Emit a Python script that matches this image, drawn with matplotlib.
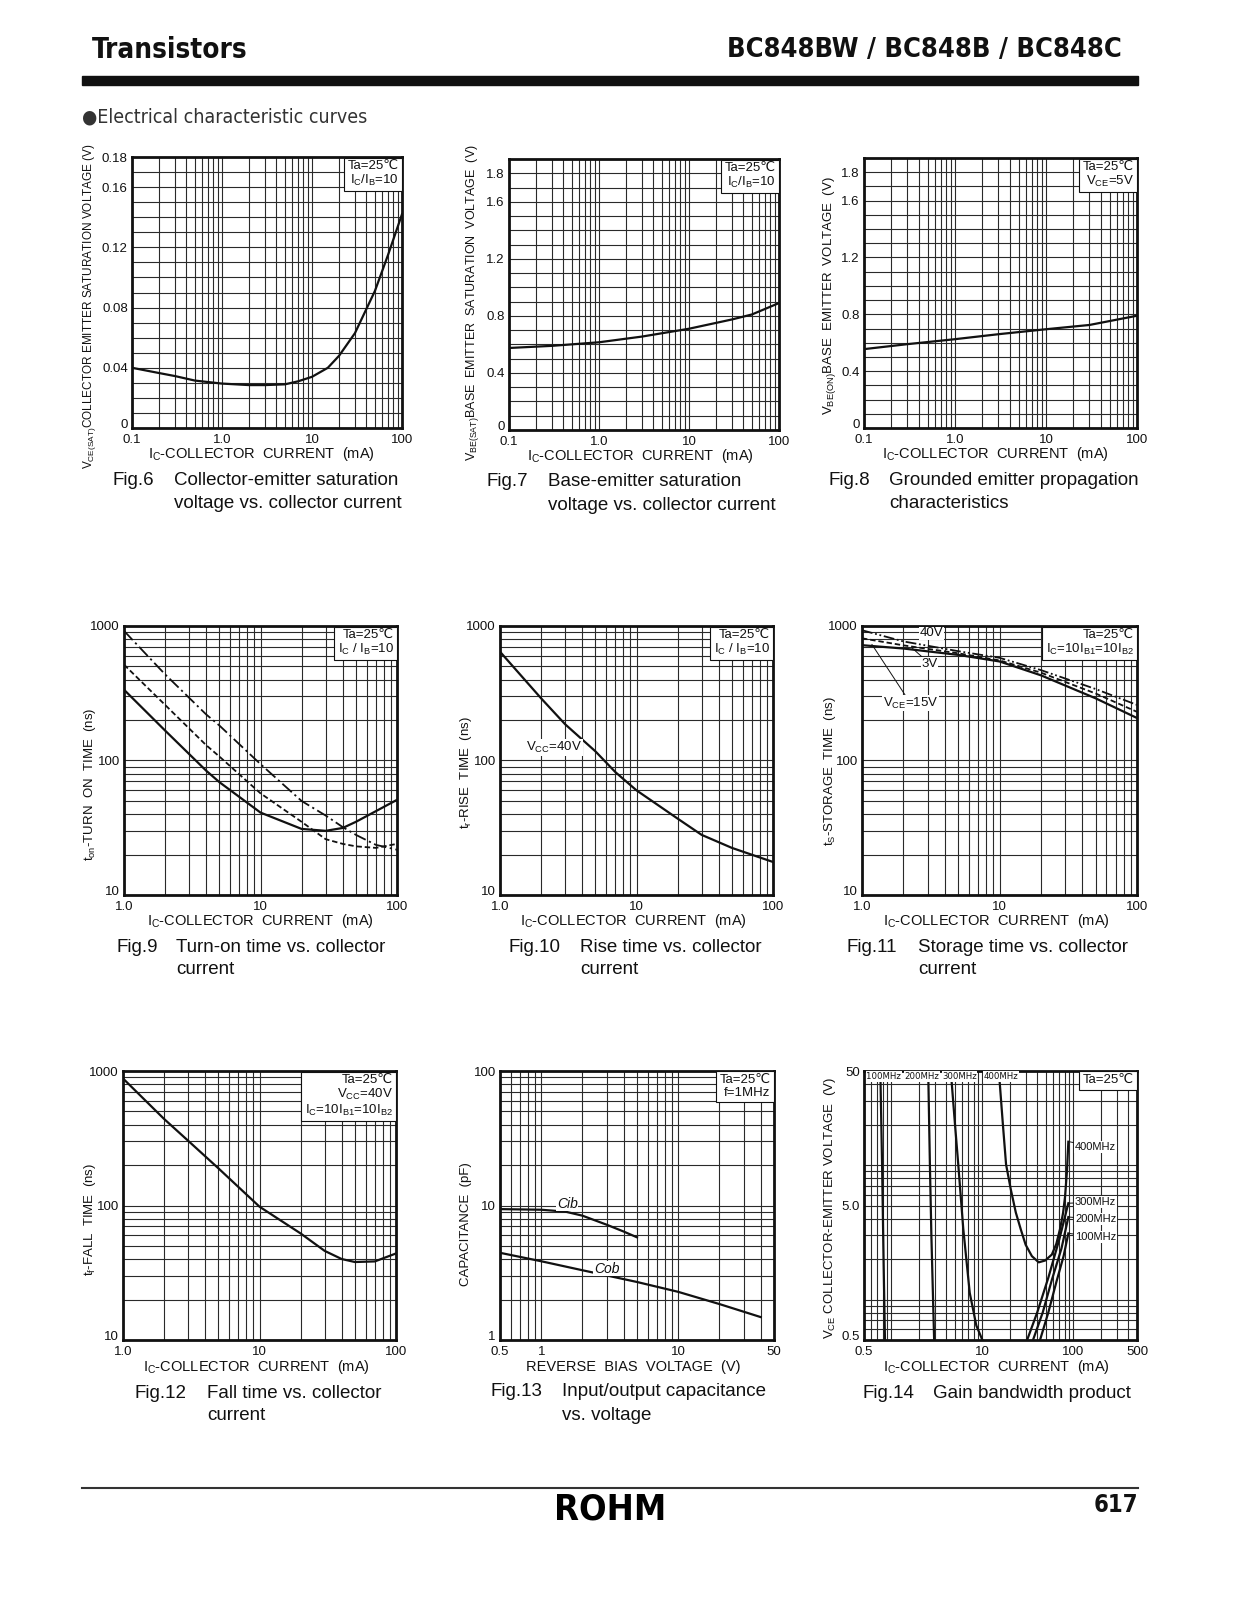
import numpy as np
import matplotlib
matplotlib.use("Agg")
import matplotlib.pyplot as plt
from matplotlib import font_manager
from matplotlib.font_manager import FontProperties
from matplotlib.patches import Rectangle
from matplotlib.lines import Line2D
from matplotlib.ticker import FixedLocator, NullFormatter, LogLocator, MultipleLocator

# ---- data ----
# Fig.6 VCE(sat) vs IC
ic6 = [0.1, 0.2, 0.3, 0.5, 1.0, 2.0, 3.0, 5.0, 7.0, 10, 15, 20, 30, 50, 70, 100]
vce6 = [0.040, 0.0365, 0.0345, 0.0315, 0.0295, 0.0285, 0.0285, 0.029, 0.031,
        0.034, 0.040, 0.048, 0.063, 0.091, 0.115, 0.142]
# Fig.7 VBE(sat) vs IC
ic7 = [0.1, 0.3, 1.0, 3.0, 10, 30, 50, 100]
vbe7 = [0.575, 0.59, 0.615, 0.655, 0.71, 0.775, 0.81, 0.89]
# Fig.8 VBE(on) vs IC
ic8 = [0.1, 0.3, 1.0, 3.0, 10, 30, 100]
vbe8 = [0.555, 0.59, 0.625, 0.66, 0.695, 0.725, 0.79]
# Fig.9 turn-on time
ic9 = [1, 2, 4, 5, 10, 20, 30, 40, 50, 70, 100]
ton_solid = [336, 167, 84, 69, 41, 31, 30, 31.5, 35, 42, 51]
ton_dash = [516, 259, 130, 107, 57, 35, 26, 24, 23, 22.4, 24]
ton_dashdot = [920, 437, 220, 182, 94, 50, 39, 32, 28, 23.6, 21.7]
# Fig.10 rise time
ic10 = [1, 2, 3, 5, 7, 10, 20, 30, 50, 100]
tr10 = [644, 290, 186, 117, 82, 60, 37, 28, 22.4, 17.6]
# Fig.11 storage time
ic11 = [1, 2, 5, 10, 20, 50, 100]
ts_15v = [720, 680, 610, 545, 430, 290, 207]
ts_3v = [810, 718, 627, 555, 450, 315, 230]
ts_40v = [930, 768, 650, 580, 470, 340, 259]
# Fig.12 fall time
ic12 = [1, 2, 3, 5, 10, 20, 30, 40, 50, 70, 100]
tf12 = [880, 440, 303, 189, 98, 62, 46, 40, 38, 38.4, 44]
# Fig.13 capacitance
vr_cib = [0.5, 1, 1.5, 2, 3, 4, 5]
cib = [9.4, 9.3, 9.0, 8.4, 7.2, 6.4, 5.8]
vr_cob = [0.5, 1, 2, 5, 10, 20, 40]
cob = [4.45, 3.85, 3.3, 2.7, 2.28, 1.85, 1.48]
# Fig.14 gain bandwidth product contours (IC mA, VCE V)
f100_l_ic = [0.76, 0.79, 0.82, 0.85]
f100_l_v = [41, 10, 2, 0.5]
f200_l_ic = [2.55, 2.65, 2.75, 2.87, 2.95]
f200_l_v = [42, 10, 3, 1, 0.5]
f300_l_ic = [4.6, 5.0, 5.43, 6.16, 7.26, 8.58, 10]
f300_l_v = [41, 20, 10.1, 3.37, 1.12, 0.64, 0.5]
f400_ic = [15.5, 16.8, 18.2, 20.5, 23.3, 26.5, 29.9, 35, 41.6, 49, 58, 65, 71.5, 77, 81, 85, 88]
f400_v = [41, 20, 10.1, 6.6, 4.43, 3.3, 2.55, 2.1, 1.89, 1.95, 2.16, 2.6, 3.37, 4.4, 5.83, 9.0, 14.9]
f300_r_ic = [31, 40, 53, 70, 88]
f300_r_v = [0.5, 0.8, 1.45, 2.8, 5.2]
f200_r_ic = [36, 46, 58, 74, 88]
f200_r_v = [0.5, 0.8, 1.4, 2.4, 4.1]
f100_r_ic = [43, 53, 65, 78, 88]
f100_r_v = [0.5, 0.8, 1.35, 2.1, 3.1]

# ---- fonts ----
plt.rcParams["font.family"] = ["Liberation Sans", "DejaVu Sans"]
plt.rcParams["mathtext.fontset"] = "custom"
plt.rcParams["mathtext.rm"] = "Liberation Sans"
plt.rcParams["mathtext.it"] = "Liberation Sans:italic"
plt.rcParams["mathtext.bf"] = "Liberation Sans:bold"


def find_font(keys, fallback_weight):
    for key in keys:
        for f in font_manager.fontManager.ttflist:
            if f.fname.endswith(key):
                return FontProperties(fname=f.fname)
    return FontProperties(family="DejaVu Sans", weight=fallback_weight)


NARROW_B = find_font(["LiberationSansNarrow-Bold.ttf", "DejaVuSansCondensed-Bold.ttf"], "bold")
NARROW_R = find_font(["LiberationSansNarrow-Regular.ttf", "DejaVuSansCondensed.ttf"], "normal")

W, H = 1245, 1600
fig = plt.figure(figsize=(W / 100, H / 100), dpi=100)


def box(x0, x1, y0, y1):
    return [x0 / W, 1 - y1 / H, (x1 - x0) / W, (y1 - y0) / H]


def fx(x):
    return x / W


def fy(y):
    return 1 - y / H


INK = "#111111"
GRID = "#2a2a2a"


def style(ax, xlim, xticks, xlabels, ylim, yticks, ylabels, ylog=True, ystep=None):
    ax.set_xscale("log")
    ax.set_xlim(*xlim)
    ax.xaxis.set_major_locator(FixedLocator(xticks))
    ax.set_xticklabels(xlabels)
    ax.xaxis.set_minor_locator(LogLocator(base=10, subs=np.arange(1, 10), numticks=30))
    ax.xaxis.set_minor_formatter(NullFormatter())
    if ylog:
        ax.set_yscale("log")
        ax.set_ylim(*ylim)
        ax.yaxis.set_minor_locator(LogLocator(base=10, subs=np.arange(1, 10), numticks=30))
        ax.yaxis.set_minor_formatter(NullFormatter())
    else:
        ax.set_ylim(*ylim)
        ax.yaxis.set_minor_locator(MultipleLocator(ystep))
    ax.yaxis.set_major_locator(FixedLocator(yticks))
    ax.set_yticklabels(ylabels)
    ax.grid(True, which="both", color=GRID, lw=0.8)
    ax.tick_params(which="both", length=0, labelsize=9.5, colors=INK)
    ax.tick_params(axis="x", pad=4)
    ax.tick_params(axis="y", pad=3)
    # lowest y label sits on the corner, lift it a little like the print
    ax.get_yticklabels()[0].set_va("baseline")
    for s in ax.spines.values():
        s.set_linewidth(2)
        s.set_color(INK)


def cond(ax, text):
    ax.text(0.988, 0.988, text, transform=ax.transAxes, ha="right", va="top",
            fontsize=9.5, color=INK, linespacing=1.05, zorder=5,
            bbox=dict(boxstyle="square,pad=0.25", fc="white", ec=INK, lw=0.8))


def labels(ax, xl, xy, yl, yx, yy, ysize=9.5):
    ax.text(xy[0], xy[1], xl, transform=ax.transAxes, ha="center", va="center",
            fontsize=10.5, color=INK)
    ax.text(yx, yy, yl, transform=ax.transAxes, ha="center", va="center",
            rotation=90, fontsize=ysize, color=INK)


IC_LABEL = r"I$_\mathrm{C}$-COLLECTOR  CURRENT  (mA)"
LW = 1.6

# ---- Fig.6 ----
ax6 = fig.add_axes(box(132, 402, 157, 428))
style(ax6, (0.1, 100), [0.1, 1, 10, 100], ["0.1", "1.0", "10", "100"],
      (0, 0.18), [0, 0.04, 0.08, 0.12, 0.16, 0.18], ["0", "0.04", "0.08", "0.12", "0.16", "0.18"],
      ylog=False, ystep=0.01)
ax6.plot(ic6, vce6, color=INK, lw=LW)
cond(ax6, "Ta=25℃\n" + r"I$_\mathrm{C}$/I$_\mathrm{B}$=10")
labels(ax6, IC_LABEL, (0.48, -0.095),
       r"V$_\mathrm{CE(SAT)}$COLLECTOR EMITTER SATURATION VOLTAGE (V)", -0.158, 0.45, ysize=8.5)

# ---- Fig.7 ----
ax7 = fig.add_axes(box(509, 779, 159, 430))
style(ax7, (0.1, 100), [0.1, 1, 10, 100], ["0.1", "1.0", "10", "100"],
      (0, 1.9), [0, 0.4, 0.8, 1.2, 1.6, 1.8], ["0", "0.4", "0.8", "1.2", "1.6", "1.8"],
      ylog=False, ystep=0.1)
ax7.plot(ic7, vbe7, color=INK, lw=LW)
cond(ax7, "Ta=25℃\n" + r"I$_\mathrm{C}$/I$_\mathrm{B}$=10")
labels(ax7, IC_LABEL, (0.485, -0.097),
       r"V$_\mathrm{BE(SAT)}$BASE  EMITTER  SATURATION  VOLTAGE  (V)", -0.135, 0.47, ysize=9)

# ---- Fig.8 ----
ax8 = fig.add_axes(box(864, 1137, 158, 428))
style(ax8, (0.1, 100), [0.1, 1, 10, 100], ["0.1", "1.0", "10", "100"],
      (0, 1.9), [0, 0.4, 0.8, 1.2, 1.6, 1.8], ["0", "0.4", "0.8", "1.2", "1.6", "1.8"],
      ylog=False, ystep=0.1)
ax8.plot(ic8, vbe8, color=INK, lw=LW)
cond(ax8, "Ta=25℃\n" + r"V$_\mathrm{CE}$=5V")
labels(ax8, IC_LABEL, (0.48, -0.097),
       r"V$_\mathrm{BE(ON)}$BASE  EMITTER  VOLTAGE  (V)", -0.128, 0.49)

TIME_T = [10, 100, 1000]
TIME_L = ["10", "100", "1000"]
DASHDOT = (0, (7, 2, 1.2, 2))
DASH = (0, (3, 1.6))

# ---- Fig.9 ----
ax9 = fig.add_axes(box(124, 397, 626, 895))
style(ax9, (1, 100), [1, 10, 100], ["1.0", "10", "100"], (10, 1000), TIME_T, TIME_L)
ax9.plot(ic9, ton_solid, color=INK, lw=LW)
ax9.plot(ic9, ton_dash, color=INK, lw=1.3, ls=DASH)
ax9.plot(ic9, ton_dashdot, color=INK, lw=1.3, ls=DASHDOT)
cond(ax9, "Ta=25℃\n" + r"I$_\mathrm{C}$ / I$_\mathrm{B}$=10")
labels(ax9, IC_LABEL, (0.5, -0.098), r"t$_\mathrm{on}$-TURN  ON  TIME  (ns)", -0.125, 0.41)

# ---- Fig.10 ----
ax10 = fig.add_axes(box(500, 773, 626, 895))
style(ax10, (1, 100), [1, 10, 100], ["1.0", "10", "100"], (10, 1000), TIME_T, TIME_L)
ax10.plot(ic10, tr10, color=INK, lw=LW)
cond(ax10, "Ta=25℃\n" + r"I$_\mathrm{C}$ / I$_\mathrm{B}$=10")
ax10.text(1.55, 125, r"V$_\mathrm{CC}$=40V", fontsize=9.5, color=INK, va="center", zorder=5,
          bbox=dict(boxstyle="square,pad=0.1", fc="white", ec="none"))
labels(ax10, IC_LABEL, (0.49, -0.098), r"t$_\mathrm{r}$-RISE  TIME  (ns)", -0.125, 0.457)

# ---- Fig.11 ----
ax11 = fig.add_axes(box(862, 1137, 626, 895))
style(ax11, (1, 100), [1, 10, 100], ["1.0", "10", "100"], (10, 1000), TIME_T, TIME_L)
ax11.plot(ic11, ts_15v, color=INK, lw=LW)
ax11.plot(ic11, ts_3v, color=INK, lw=1.3, ls=DASH)
ax11.plot(ic11, ts_40v, color=INK, lw=1.3, ls=(0, (6, 1.5, 1, 1.5, 1, 1.5)))
cond(ax11, "Ta=25℃\n" + r"I$_\mathrm{C}$=10I$_\mathrm{B1}$=10I$_\mathrm{B2}$")
kw = dict(fontsize=9.5, color=INK, zorder=5,
          bbox=dict(boxstyle="square,pad=0.05", fc="white", ec="none"))
ax11.text(3.2, 880, "40V", ha="center", va="center", **kw)
ax11.annotate("3V", xy=(2.3, 690), xytext=(3.1, 525), ha="center", va="center",
              arrowprops=dict(arrowstyle="-", lw=0.7, color=INK, shrinkA=0, shrinkB=0), **kw)
ax11.annotate(r"V$_\mathrm{CE}$=15V", xy=(1.18, 730), xytext=(2.25, 267), ha="center", va="center",
              arrowprops=dict(arrowstyle="-", lw=0.7, color=INK, shrinkA=0, shrinkB=0), **kw)
labels(ax11, IC_LABEL, (0.49, -0.098), r"t$_\mathrm{S}$-STORAGE  TIME  (ns)", -0.117, 0.46)

# ---- Fig.12 ----
ax12 = fig.add_axes(box(123, 396, 1071, 1340))
style(ax12, (1, 100), [1, 10, 100], ["1.0", "10", "100"], (10, 1000), TIME_T, TIME_L)
ax12.plot(ic12, tf12, color=INK, lw=LW)
cond(ax12, "Ta=25℃\n" + r"V$_\mathrm{CC}$=40V" + "\n" + r"I$_\mathrm{C}$=10I$_\mathrm{B1}$=10I$_\mathrm{B2}$")
labels(ax12, IC_LABEL, (0.487, -0.1), r"t$_\mathrm{f}$-FALL  TIME  (ns)", -0.12, 0.45)

# ---- Fig.13 ----
ax13 = fig.add_axes(box(500, 774, 1071, 1340))
style(ax13, (0.5, 50), [0.5, 1, 10, 50], ["0.5", "1", "10", "50"], (1, 100), [1, 10, 100], ["1", "10", "100"])
ax13.plot(vr_cib, cib, color=INK, lw=LW)
ax13.plot(vr_cob, cob, color=INK, lw=LW)
cond(ax13, "Ta=25℃\nf=1MHz")
ax13.text(1.55, 10.3, "Cib", fontsize=10, style="italic", color=INK, ha="center", va="center", zorder=5,
          bbox=dict(boxstyle="square,pad=0.05", fc="white", ec="none"))
ax13.text(3.0, 3.4, "Cob", fontsize=10, style="italic", color=INK, ha="center", va="center", zorder=5,
          bbox=dict(boxstyle="square,pad=0.05", fc="white", ec="none"))
labels(ax13, "REVERSE  BIAS  VOLTAGE  (V)", (0.485, -0.1), "CAPACITANCE  (pF)", -0.124, 0.43)

# ---- Fig.14 ----
ax14 = fig.add_axes(box(864, 1137, 1071, 1340))
style(ax14, (0.5, 500), [0.5, 10, 100, 500], ["0.5", "10", "100", "500"],
      (0.5, 50), [0.5, 5, 50], ["0.5", "5.0", "50"])
for xs, ys in [(f100_l_ic, f100_l_v), (f200_l_ic, f200_l_v), (f300_l_ic, f300_l_v),
               (f400_ic, f400_v), (f300_r_ic, f300_r_v), (f200_r_ic, f200_r_v),
               (f100_r_ic, f100_r_v)]:
    ax14.plot(xs, ys, color=INK, lw=LW)
cond(ax14, "Ta=25℃")
small = dict(fontproperties=NARROW_R, fontsize=6.8, color=INK, va="center", zorder=5,
             bbox=dict(boxstyle="square,pad=0.06", fc="white", ec="none"))
for lab, xc in [("100MHz", 0.82), ("200MHz", 2.15), ("300MHz", 5.6), ("400MHz", 16)]:
    ax14.text(xc, 45.5, lab, ha="center", **small)
right = dict(fontsize=8, color=INK, ha="left", va="center", zorder=5,
             bbox=dict(boxstyle="square,pad=0.08", fc="white", ec="none"))
for lab, yend, ylab in [("400MHz", 14.9, 13.6), ("300MHz", 5.2, 5.3),
                        ("200MHz", 4.1, 3.97), ("100MHz", 3.1, 2.92)]:
    ax14.annotate(lab, xy=(90, yend), xytext=(104, ylab),
                  arrowprops=dict(arrowstyle="-", lw=0.7, color=INK, shrinkA=0, shrinkB=0), **right)
labels(ax14, IC_LABEL, (0.485, -0.1), r"V$_\mathrm{CE}$ COLLECTOR-EMITTER VOLTAGE  (V)", -0.125, 0.49)

# ---- captions ----
captions = [
    ("Fig.6", "Collector-emitter saturation", "voltage vs. collector current", 113, 174, 481),
    ("Fig.7", "Base-emitter saturation", "voltage vs. collector current", 487, 548, 482),
    ("Fig.8", "Grounded emitter propagation", "characteristics", 829, 889, 481),
    ("Fig.9", "Turn-on time vs. collector", "current", 117, 176, 947),
    ("Fig.10", "Rise time vs. collector", "current", 508, 580, 947),
    ("Fig.11", "Storage time vs. collector", "current", 847, 918, 947),
    ("Fig.12", "Fall time vs. collector", "current", 135, 207, 1393),
    ("Fig.13", "Input/output capacitance", "vs. voltage", 490, 562, 1392),
    ("Fig.14", "Gain bandwidth product", "", 862, 933, 1393),
]
for num, l1, l2, x0, x1, y in captions:
    fig.text(fx(x0), fy(y), num, fontsize=13.5, color=INK, va="center")
    fig.text(fx(x1), fy(y), l1, fontsize=13.5, color=INK, va="center")
    if l2:
        fig.text(fx(x1), fy(y + 23), l2, fontsize=13.5, color=INK, va="center")

# ---- page header / footer ----
fig.text(fx(92), fy(50), "Transistors", fontproperties=NARROW_B, fontsize=20,
         color=INK, va="center")
fig.text(fx(1122), fy(50), "BC848BW / BC848B / BC848C", fontproperties=NARROW_B, fontsize=19.5,
         color=INK, va="center", ha="right")
fig.patches.append(Rectangle((fx(82), fy(85)), fx(1138) - fx(82), fy(76) - fy(85),
                             transform=fig.transFigure, color=INK, figure=fig))
fig.text(fx(82), fy(117), "●Electrical characteristic curves", fontproperties=NARROW_R,
         fontsize=14, color="#333333", va="center")
fig.lines.append(Line2D([fx(82), fx(1138)], [fy(1488), fy(1488)], transform=fig.transFigure,
                        color="#333333", lw=1.5, figure=fig))
fig.text(fx(610), fy(1510), "ROHM", fontproperties=NARROW_B, fontsize=26,
         color="black", ha="center", va="center")
fig.text(fx(1138), fy(1505), "617", fontproperties=NARROW_B, fontsize=17,
         color=INK, ha="right", va="center")

fig.savefig("out.png", dpi=100, facecolor="white")
